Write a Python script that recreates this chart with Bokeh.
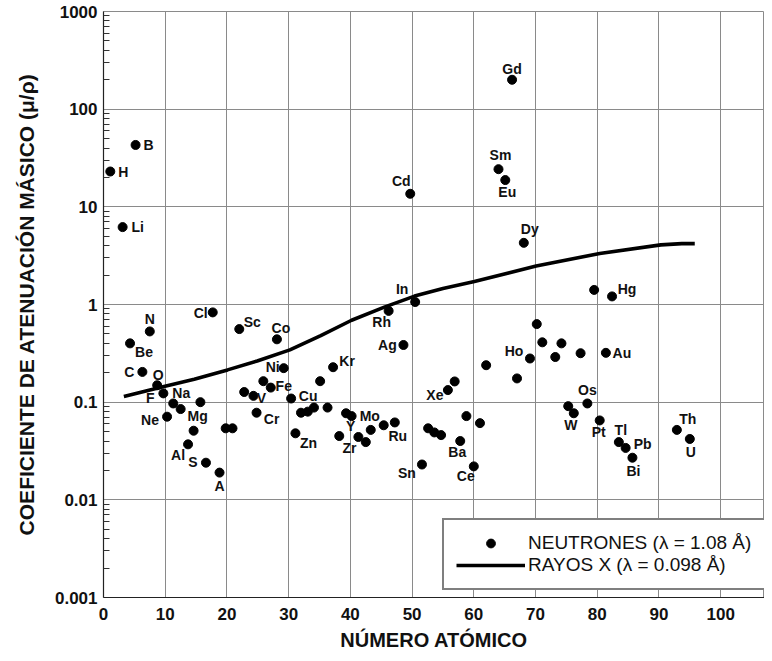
from bokeh.plotting import figure
from bokeh.models import (ColumnDataSource, FixedTicker, Legend, LegendItem, Range1d)
from bokeh.core.properties import value
from bokeh.embed import file_html
from bokeh.resources import INLINE

# ---------------- data ----------------
symbols = ["H", "Li", "Be", "B", "C", "N", "O", "F", "Ne", "Na", "Mg", "Al", "",
           "", "S", "Cl", "A", "", "", "Sc", "", "V", "Cr", "", "Fe", "Co", "Ni",
           "Cu", "Zn", "", "", "", "", "", "Kr", "", "", "Y", "Zr", "", "Mo", "",
           "Ru", "Rh", "Ag", "Cd", "In", "Sn", "", "", "", "Xe", "", "Ba", "",
           "Ce", "", "", "Sm", "Eu", "Gd", "", "Dy", "Ho", "", "", "", "", "",
           "", "W", "Os", "", "Pt", "Hg", "Au", "Tl", "Pb", "Bi", "Th", "U"]
z_pos = [1.1, 3.1, 4.3, 5.2, 6.3, 7.5, 8.7, 9.7, 10.3, 11.3, 12.5, 13.7, 14.6,
         15.7, 16.6, 17.7, 18.8, 19.8, 20.9, 22.0, 22.8, 24.3, 24.8, 25.9, 27.1,
         28.1, 29.2, 30.4, 31.1, 32.0, 33.1, 34.1, 35.1, 36.3, 37.2, 38.2, 39.3,
         40.2, 41.3, 42.5, 43.3, 45.4, 47.2, 46.2, 48.6, 49.7, 50.5, 51.6, 52.6,
         53.6, 54.7, 55.8, 56.9, 57.8, 58.8, 60.0, 61.0, 62.0, 64.0, 65.1, 66.2,
         67.0, 68.1, 69.1, 70.2, 71.1, 73.2, 74.2, 77.3, 75.3, 76.2, 78.4, 79.5,
         80.4, 82.4, 81.4, 83.5, 84.6, 85.7, 92.9, 95.0]
mu_neutron = [23, 6.2, 0.40, 43, 0.204, 0.53, 0.149, 0.123, 0.071, 0.097, 0.085,
              0.037, 0.051, 0.10, 0.024, 0.83, 0.019, 0.054, 0.054, 0.56, 0.127,
              0.116, 0.078, 0.164, 0.141, 0.44, 0.223, 0.109, 0.048, 0.078, 0.080,
              0.088, 0.164, 0.088, 0.228, 0.045, 0.077, 0.072, 0.044, 0.039, 0.052,
              0.058, 0.062, 0.86, 0.385, 13.6, 1.06, 0.023, 0.054, 0.049, 0.046,
              0.133, 0.163, 0.040, 0.072, 0.022, 0.061, 0.239, 24.3, 18.8, 200,
              0.175, 4.28, 0.28, 0.63, 0.41, 0.29, 0.40, 0.317, 0.091, 0.077,
              0.097, 1.41, 0.065, 1.21, 0.32, 0.039, 0.034, 0.027, 0.052, 0.042]

xray_z = [3.3, 9.8, 14.7, 20.1, 24.9, 30.2, 35.2, 40.2, 45.5, 50.4, 55.0, 60.1,
          70.1, 80.4, 90.3, 93.7, 95.8]
xray_mu = [0.114, 0.145, 0.172, 0.214, 0.264, 0.343, 0.48, 0.69, 0.94, 1.22,
           1.46, 1.72, 2.48, 3.33, 4.08, 4.2, 4.2]

x_ticks = [0, 10, 20, 30, 40, 50, 60, 70, 80, 90, 100]
y_ticks = [0.001, 0.01, 0.1, 1, 10, 100, 1000]
y_tick_labels = ["0.001", "0.01", "0.1", "1", "10", "100", "1000"]

legend_neutron = "NEUTRONES (\u03bb = 1.08 \u00c5)"
legend_xray = "RAYOS X (\u03bb = 0.098 \u00c5)"
x_title = "N\u00daMERO AT\u00d3MICO"
y_title = "COEFICIENTE DE ATENUACI\u00d3N M\u00c1SICO (\u03bc/\u03c1)"

# ---------------- label placement (screen px, relative to dot) ----------------
label_offsets = {
    "H": (13, 0), "B": (13, 0), "Li": (15, 0), "Cd": (-9, -13), "In": (-13, -13),
    "Rh": (-7, 11), "Cl": (-12, 1), "Sc": (13, -7), "Co": (4, -11), "N": (0, -12),
    "Be": (14, 9), "C": (-13, 0), "O": (1, -10), "F": (-13, 5), "Na": (8, -10),
    "Ne": (-17, 3), "Mg": (17, 7), "Al": (-10, 11), "S": (-13, -1), "A": (0, 13),
    "Ni": (-11, -1), "Fe": (13, -2), "V": (8, 2), "Cr": (15, 6), "Cu": (17, -3),
    "Zn": (13, 10), "Kr": (14, -6), "Mo": (-1, -14), "Y": (-1, 10), "Zr": (-9, 11),
    "Ru": (3, 14), "Ag": (-16, 0), "Sn": (-15, 8), "Xe": (-13, 5), "Ba": (-3, 11),
    "Ce": (-8, 10), "Ho": (-16, -7), "Au": (16, 0), "Os": (0, -13), "W": (-3, 12),
    "Pt": (-1, 12), "Tl": (2, -12), "Pb": (17, -4), "Bi": (1, 13), "Th": (11, -11),
    "U": (1, 13), "Gd": (0, -11), "Sm": (2, -14), "Eu": (2, 12), "Dy": (6, -14),
    "Hg": (15, -7),
}

FONT = "Liberation Sans"

p = figure(width=764, height=653, y_axis_type="log",
           x_range=Range1d(0, 107.1), y_range=Range1d(0.001, 1000),
           output_backend="svg", toolbar_location=None,
           min_border_left=103, min_border_right=0, min_border_top=11,
           min_border_bottom=55)

p.background_fill_color = "white"
p.border_fill_color = "white"
p.outline_line_color = "#8a8a8a"
p.outline_line_width = 1

# grids
p.xgrid.ticker = FixedTicker(ticks=x_ticks)
p.ygrid.ticker = FixedTicker(ticks=y_ticks)
for g in (p.xgrid, p.ygrid):
    g.grid_line_color = "#8a8a8a"
    g.grid_line_width = 1

# minor tick positions for the log axis
minor = []
for dec in y_ticks[:-1]:
    for m in range(2, 10):
        minor.append(dec * m)

p.yaxis.ticker = FixedTicker(ticks=y_ticks, minor_ticks=minor)
p.xaxis.ticker = FixedTicker(ticks=x_ticks)
p.yaxis.major_label_overrides = {t: s for t, s in zip(y_ticks, y_tick_labels)}

for ax in (p.xaxis, p.yaxis):
    ax.axis_line_color = "#222222"
    ax.axis_line_width = 1.2
    ax.major_tick_in = 0
    ax.major_tick_out = 0
    ax.major_label_text_font = FONT
    ax.major_label_text_font_style = "bold"
    ax.major_label_text_font_size = "17px"
    ax.major_label_text_color = "#111111"
    ax.axis_label_text_font = FONT
    ax.axis_label_text_font_style = "bold"
    ax.axis_label_text_font_size = "21px"
    ax.axis_label_text_color = "#111111"

p.xaxis.axis_label_text_font_size = "20px"
p.xaxis.minor_tick_line_color = None
p.yaxis.minor_tick_in = 6
p.yaxis.minor_tick_out = 0
p.yaxis.minor_tick_line_color = "#333333"
p.yaxis.major_label_standoff = 6
p.xaxis.major_label_standoff = 10
p.xaxis.axis_label = x_title
p.yaxis.axis_label = y_title
p.xaxis.axis_label_standoff = 6
p.yaxis.axis_label_standoff = 14

# data
pts = ColumnDataSource(dict(z=z_pos, mu=mu_neutron))
xr = ColumnDataSource(dict(z=xray_z, mu=xray_mu))

ln = p.line("z", "mu", source=xr, line_color="black", line_width=3.6)
sc = p.scatter("z", "mu", source=pts, size=9, color="black")

lab = {"z": [], "mu": [], "text": [], "dx": [], "dy": []}
for s, zz, mm in zip(symbols, z_pos, mu_neutron):
    if s:
        dx, dy = label_offsets[s]
        lab["z"].append(zz)
        lab["mu"].append(mm)
        lab["text"].append(s)
        lab["dx"].append(dx)
        lab["dy"].append(dy)
labsrc = ColumnDataSource(lab)
p.text("z", "mu", text="text", source=labsrc, x_offset="dx", y_offset="dy",
       text_align="center", text_baseline="middle",
       text_font=value(FONT), text_font_size="14px", text_font_style="bold",
       text_color="#111111")

legend = Legend(items=[LegendItem(label=legend_neutron, renderers=[sc]),
                       LegendItem(label=legend_xray, renderers=[ln])],
                location=(339, 7))
legend.border_line_color = "black"
legend.border_line_width = 2
legend.background_fill_color = "white"
legend.background_fill_alpha = 1
legend.padding = 12
legend.margin = 0
legend.spacing = 0
legend.glyph_width = 69
legend.glyph_height = 22
legend.label_height = 22
legend.label_width = 330
legend.label_standoff = 3
legend.label_text_font = FONT
legend.label_text_font_size = "19px"
legend.label_text_color = "#111111"
p.add_layout(legend, "center")

open("out.html", "w").write(file_html(p, INLINE))
